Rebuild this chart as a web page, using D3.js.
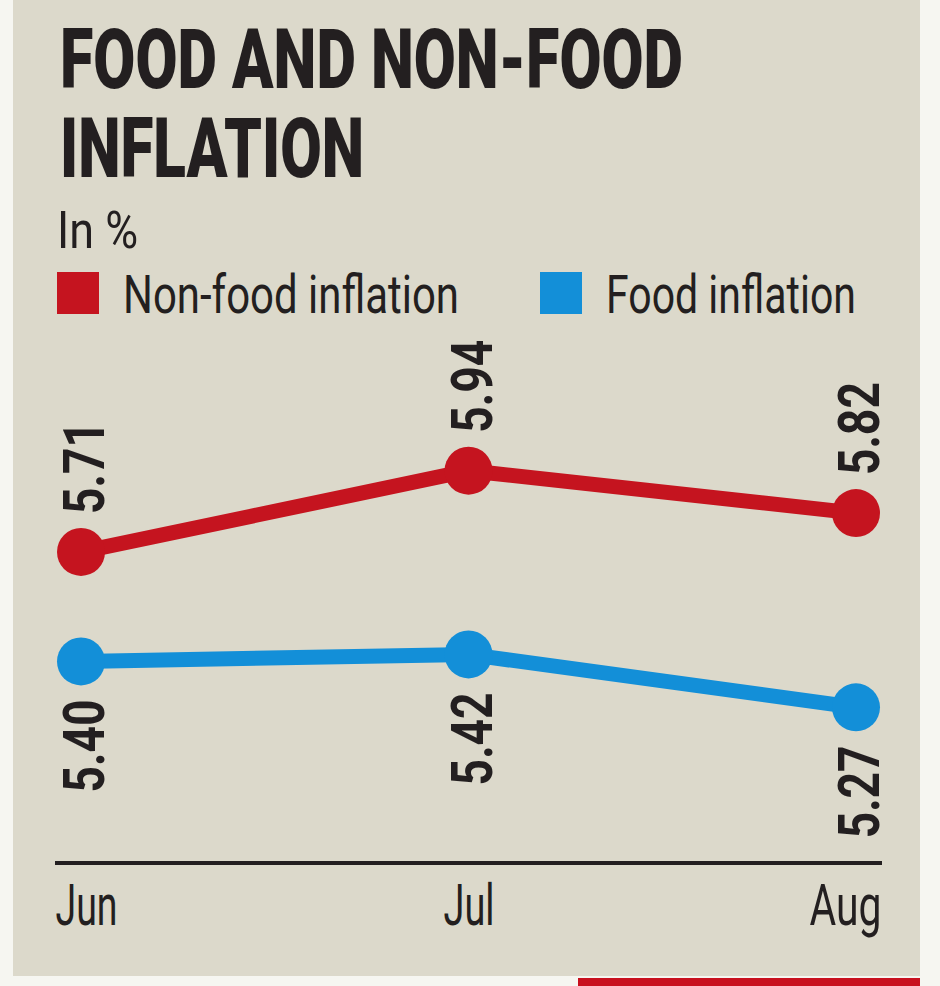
<!DOCTYPE html>
<html>
<head>
<meta charset="utf-8">
<script src="https://cdn.jsdelivr.net/npm/d3@7/dist/d3.min.js"></script>
<style>
  html, body { margin: 0; padding: 0; background: #f6f6f1; }
  svg { display: block; }
</style>
</head>
<body>
<svg id="chart" width="940" height="986"></svg>
<script>
// ---- data ----
const months = ["Jun", "Jul", "Aug"];
const nonFood = [5.71, 5.94, 5.82];
const food = [5.40, 5.42, 5.27];
const seriesNames = ["Non-food inflation", "Food inflation"];
const titleLines = ["FOOD AND NON-FOOD", "INFLATION"];
const unitLabel = "In %";

// ---- styles ----
const RED = "#c5141f", BLUE = "#138fd8", INK = "#231f20", BG = "#dcd9cb";

const svg = d3.select("#chart");

// panel background
svg.append("rect").attr("x", 13).attr("y", 0).attr("width", 907).attr("height", 976).attr("fill", BG);
// red strip at bottom right
svg.append("rect").attr("x", 578).attr("y", 978).attr("width", 342).attr("height", 8).attr("fill", "#c8101e");

// title
const tl = [623, 304];
svg.selectAll("text.title").data(titleLines).join("text")
  .attr("class", "title")
  .attr("x", 60)
  .attr("y", (d, i) => 88 + i * 89)
  .attr("font-family", "Roboto, 'Liberation Sans', sans-serif")
  .attr("font-weight", 900)
  .attr("font-size", 83)
  .attr("fill", INK)
  .attr("textLength", (d, i) => tl[i])
  .attr("lengthAdjust", "spacingAndGlyphs")
  .text(d => d);

// unit
svg.append("text")
  .attr("x", 57).attr("y", 248)
  .attr("font-family", "Roboto, sans-serif")
  .attr("font-size", 52)
  .attr("fill", INK)
  .attr("textLength", 81).attr("lengthAdjust", "spacingAndGlyphs")
  .text(unitLabel);

// legend
const legendX = [57, 540];
const legendTextLen = [336, 250];
const legendColors = [RED, BLUE];
const lg = svg.selectAll("g.legend").data(seriesNames).join("g")
  .attr("class", "legend")
  .attr("transform", (d, i) => `translate(${legendX[i]},272)`);
lg.append("rect").attr("width", 42).attr("height", 42).attr("fill", (d, i) => legendColors[i]);
lg.append("text")
  .attr("x", 66).attr("y", 41)
  .attr("font-family", "Roboto, sans-serif")
  .attr("font-size", 53)
  .attr("fill", INK)
  .attr("textLength", (d, i) => legendTextLen[i]).attr("lengthAdjust", "spacingAndGlyphs")
  .text(d => d);

// scales
const x = d3.scalePoint().domain(months).range([81, 856]);
const y = d3.scaleLinear().domain([5.2, 6.0]).range([732.1, 449.5]);

// axis
const axisG = svg.append("g").attr("transform", "translate(0,863)");
axisG.call(d3.axisBottom(x).tickSize(0).tickPadding(0));
axisG.select(".domain").remove();
axisG.append("line").attr("x1", 55).attr("x2", 882).attr("y1", 0).attr("y2", 0)
  .attr("stroke", INK).attr("stroke-width", 4);
const tickLen = [62, 51, 72];
const tickAnchor = ["start", "middle", "end"];
const tickDx = [-26, 0, 25];
axisG.selectAll(".tick text")
  .attr("y", 62)
  .attr("dy", 0)
  .attr("dx", (d, i) => tickDx[i])
  .attr("text-anchor", (d, i) => tickAnchor[i])
  .attr("font-family", "Roboto, sans-serif")
  .attr("font-size", 57)
  .attr("fill", INK)
  .attr("textLength", (d, i) => tickLen[i]).attr("lengthAdjust", "spacingAndGlyphs");

// series
const series = [
  { values: nonFood, color: RED, above: true },
  { values: food, color: BLUE, above: false }
];
const line = d3.line().x((d, i) => x(months[i])).y(d => y(d));

series.forEach(s => {
  const g = svg.append("g");
  g.append("path").datum(s.values)
    .attr("d", line).attr("fill", "none")
    .attr("stroke", s.color).attr("stroke-width", 15);
  g.selectAll("circle").data(s.values).join("circle")
    .attr("cx", (d, i) => x(months[i])).attr("cy", d => y(d))
    .attr("r", 24).attr("fill", s.color);
  g.selectAll("text").data(s.values).join("text")
    .attr("transform", (d, i) => {
      const px = x(months[i]) + 23;
      const py = s.above ? y(d) - 38 : y(d) + 38;
      return `translate(${px},${py}) rotate(-90)`;
    })
    .attr("text-anchor", s.above ? "start" : "end")
    .attr("font-family", "Roboto, sans-serif")
    .attr("font-weight", 700)
    .attr("font-size", 58)
    .attr("fill", INK)
    .attr("textLength", 93).attr("lengthAdjust", "spacingAndGlyphs")
    .text(d => d.toFixed(2));
});
</script>
</body>
</html>
